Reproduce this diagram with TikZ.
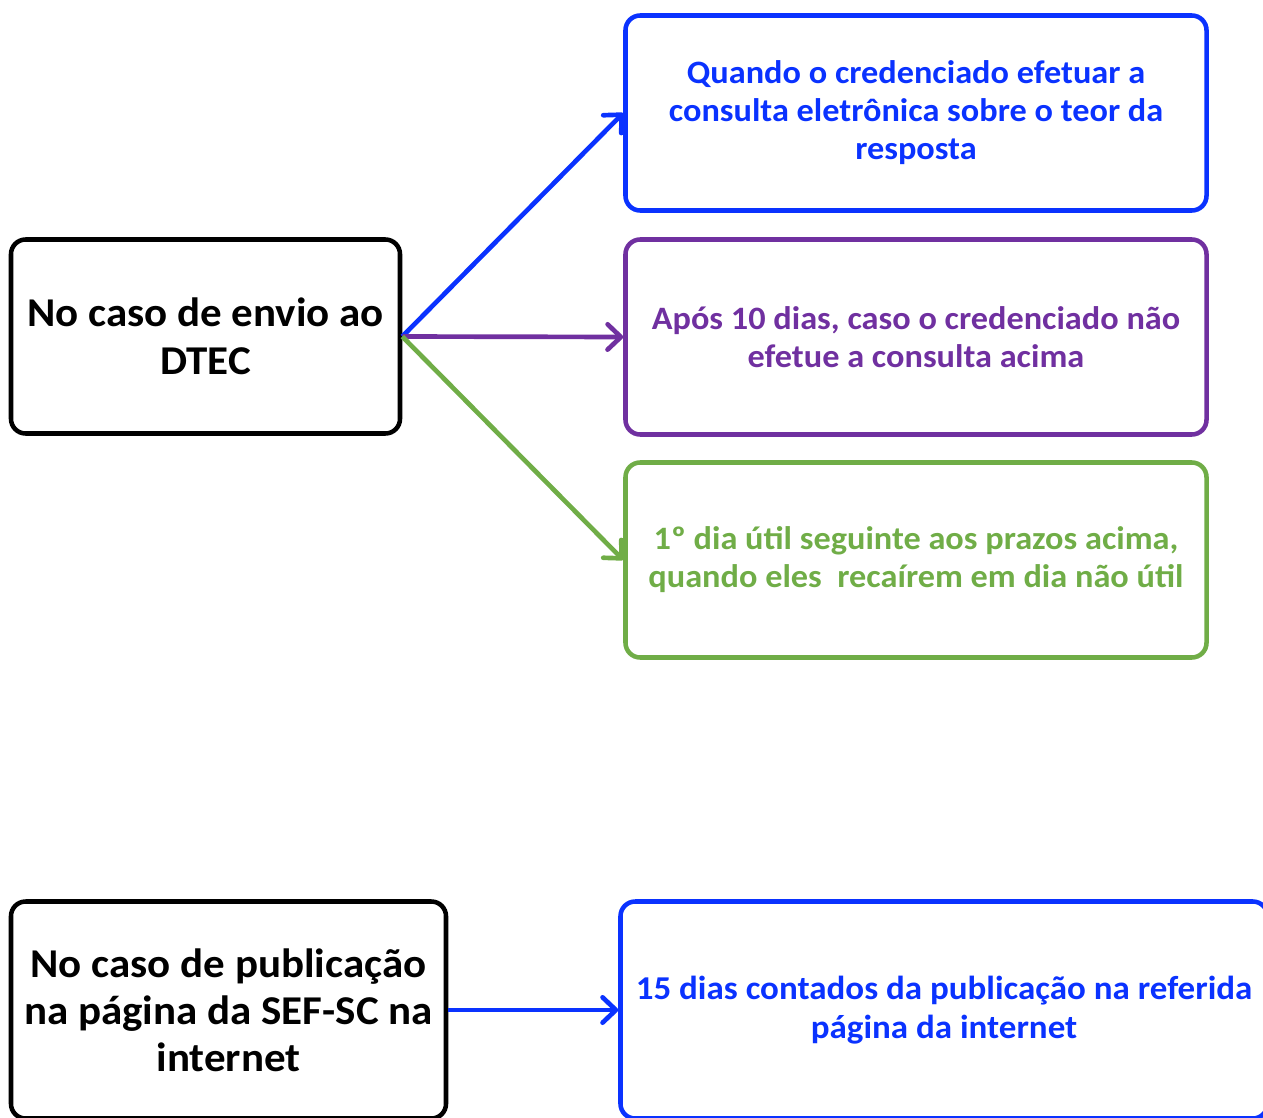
\documentclass[tikz,border=0pt]{standalone}
\usepackage{fontspec}
\setmainfont{Carlito}[FakeStretch=1.05]
\usetikzlibrary{arrows.meta}
\definecolor{cblue}{RGB}{10,50,255}
\definecolor{cpurple}{RGB}{112,48,160}
\definecolor{cgreen}{RGB}{112,173,71}
\tikzset{
  box/.style={draw, rounded corners=11pt, line width=3.4pt, align=center, inner sep=0pt, font=\bfseries},
  bigtxt/.style={font=\fontsize{30.7pt}{36pt}\selectfont\bfseries},
  smalltxt/.style={font=\fontsize{24.5pt}{28.5pt}\selectfont\bfseries},
  conn/.style={line width=3.5pt, -{Straight Barb[length=10pt,width=19pt,line width=3.5pt,round]}}
}
\begin{document}
\begin{tikzpicture}[x=0.75pt,y=-0.75pt]
\useasboundingbox (0,0) rectangle (1263,1117);
\clip (0,0) rectangle (1263,1117);
\node[box, bigtxt, minimum width=389*0.75pt, minimum height=194*0.75pt] (A) at (205.5,336.5) {No caso de envio ao\\DTEC};
\node[box, smalltxt, draw=cblue, text=cblue, minimum width=581*0.75pt, minimum height=195*0.75pt] (B1) at (916,113) {Quando o credenciado efetuar a\\consulta eletrônica sobre o teor da\\resposta};
\node[box, smalltxt, draw=cpurple, text=cpurple, minimum width=581*0.75pt, minimum height=195*0.75pt] (B2) at (916,337) {Após 10 dias, caso o credenciado não\\efetue a consulta acima};
\node[box, smalltxt, draw=cgreen, text=cgreen, minimum width=581*0.75pt, minimum height=195*0.75pt] (B3) at (916,560) {1º dia útil seguinte aos prazos acima,\\quando eles\ \ recaírem em dia não útil};
\node[box, font=\fontsize{30.7pt}{35.25pt}\selectfont\bfseries, minimum width=435*0.75pt, minimum height=217*0.75pt] (C) at (228.5,1010) {No caso de publicação\\na página da SEF-SC na\\internet};
\node[box, font=\fontsize{25pt}{29pt}\selectfont\bfseries, draw=cblue, text=cblue, minimum width=647*0.75pt, minimum height=217*0.75pt] (D) at (944,1010) {15 dias contados da publicação na referida\\página da internet};
\draw[conn, cblue] (A.east) -- (B1.west);
\draw[conn, cpurple] (A.east) -- (B2.west);
\draw[conn, cgreen] (A.east) -- (B3.west);
\draw[conn, cblue] (C.east) -- (D.west);
\end{tikzpicture}
\end{document}
